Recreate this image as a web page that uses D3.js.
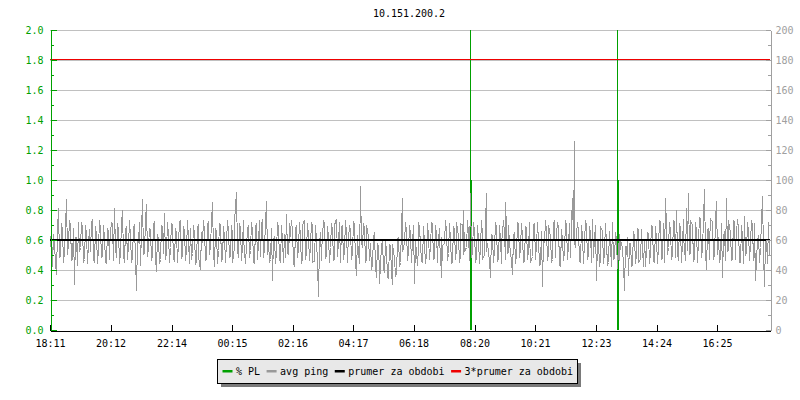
<!DOCTYPE html>
<html>
<head>
<meta charset="utf-8">
<script src="https://cdn.jsdelivr.net/npm/d3@7"></script>
<style>
  body { margin: 0; background: #fff; }
  svg { display: block; }
  text { font-family: "DejaVu Sans Mono", monospace; font-size: 10px; }
</style>
</head>
<body>
<svg id="chart" width="800" height="400"></svg>
<script>
'use strict';

// ---- data ----
const title = '10.151.200.2';
const startClock = '18:11';
const stepMinutes = 2;
const xTickLabels = ['18:11', '20:12', '22:14', '00:15', '02:16', '04:17', '06:18', '08:20', '10:21', '12:23', '14:24', '16:25'];
const leftTicks = [0, 0.2, 0.4, 0.6, 0.8, 1.0, 1.2, 1.4, 1.6, 1.8, 2.0];
const rightTicks = [0, 20, 40, 60, 80, 100, 120, 140, 160, 180, 200];

// avg ping, ms, one sample every 2 minutes from 18:11
const avgPing = [
  55,70, 42,64, 58,44, 37,66, 81,48, 50,71, 66,45, 52,69, 87,50, 58,73,
  70,46, 48,68, 30,62, 62,43, 72,52, 55,72, 68,45, 47,70, 64,44, 58,67,
  52,71, 74,47, 45,69, 63,44, 55,73, 67,48, 50,70, 61,46, 44,68, 65,47,
  57,72, 70,46, 81,55, 48,71, 66,44, 52,70, 80,50, 45,67, 69,47, 56,73,
  62,45, 48,69, 70,47, 26,60, 58,72, 43,66, 87,50, 52,73, 84,49, 55,68,
  66,46, 50,71, 72,48, 39,64, 60,44, 47,70, 68,51, 78,47, 52,72, 63,45,
  55,71, 70,47, 46,68, 64,45, 58,72, 73,48, 49,69, 66,46, 53,73, 61,44,
  68,47, 51,70, 63,44, 45,69, 70,49, 40,65, 58,73, 66,46, 48,71, 72,50,
  56,72, 85,52, 42,68, 65,44, 53,71, 70,46, 47,69, 62,45, 58,73, 66,48,
  50,70, 64,45, 55,72, 92,53, 48,71, 68,46, 57,73, 61,44, 45,67, 70,48,
  53,72, 66,46, 44,69, 71,47, 58,73, 49,70, 74,48, 55,71, 86,50, 60,45,
  47,68, 33,61, 62,44, 52,72, 68,47, 45,70, 59,45, 64,48, 77,52, 50,71,
  58,73, 66,45, 42,67, 70,48, 55,72, 61,44, 48,70, 73,47, 52,71, 63,46,
  57,72, 69,45, 46,70, 60,44, 22,58, 65,46, 52,73, 71,48, 49,69, 62,45,
  55,71, 67,46, 48,70, 74,49, 58,72, 45,68, 70,47, 53,73, 64,45, 50,70,
  66,47, 52,72, 71,46, 36,63, 60,44, 96,58, 55,71, 68,45, 47,70, 62,46,
  58,40, 44,62, 65,42, 35,58, 55,38, 31,56, 60,41, 38,60, 52,36, 34,57,
  56,38, 30,57, 48,36, 37,60, 62,42, 45,68, 88,52, 58,72, 66,46, 52,70,
  63,45, 47,70, 31,58, 60,43, 55,72, 68,46, 45,69, 58,44, 50,71, 62,47,
  56,72, 70,47, 48,70, 64,45, 52,68, 43,62, 35,56, 58,73, 66,46, 51,71,
  60,44, 46,69, 67,47, 54,72, 62,45, 49,71, 70,50, 80,52, 55,73, 64,46,
  91,48, 52,72, 66,45, 48,70, 60,44, 56,73, 63,47, 50,71, 91,52, 58,46,
  35,64, 62,45, 54,72, 68,46, 47,70, 60,44, 57,73, 64,47, 85,51, 52,70,
  58,46, 37,63, 65,44, 50,72, 70,48, 55,71, 62,45, 46,69, 68,47, 53,72,
  64,45, 49,70, 71,47, 56,72, 60,43, 44,66, 29,60, 58,73, 66,46, 51,70,
  62,45, 47,71, 73,48, 55,72, 68,44, 42,67, 60,46, 52,73, 70,47, 57,71,
  48,72, 88,60, 126,58, 55,72, 66,46, 45,70, 62,44, 58,73, 70,47, 50,69,
  64,45, 74,48, 50,70, 33,58, 60,42, 47,69, 66,44, 52,71, 58,43, 45,66,
  56,42, 72,47, 48,65, 60,41, 52,64, 46,60, 55,43, 26,56, 50,62, 36,58,
  58,42, 44,66, 62,44, 50,68, 66,45, 47,67, 55,42, 60,46, 42,65, 64,44,
  52,70, 68,46, 45,69, 60,44, 56,73, 72,47, 48,71, 64,45, 88,50, 55,72,
  66,47, 50,73, 72,48, 80,52, 46,71, 68,45, 58,74, 62,46, 81,53, 91,50,
  52,73, 70,46, 47,72, 66,45, 60,75, 74,48, 55,73, 94,52, 40,66, 68,47,
  57,74, 72,47, 50,72, 86,50, 62,45, 48,71, 35,62, 66,46, 88,52, 54,73,
  65,46, 48,73, 72,47, 56,74, 68,45, 45,70, 62,44, 76,50, 51,72, 66,46,
  58,73, 70,46, 50,71, 33,60, 63,45, 55,72, 89,52, 29,58, 60,44, 72,50
];

// packet loss samples (left axis), all other samples are 0
const plTimes = ['08:11', '08:13', '13:05', '13:07'];
const plValues = [2.0, 1.0, 2.0, 1.0];

const meanPing = 60;
const tripleMeanPing = 180;

const legendLabels = ['% PL', 'avg ping', 'prumer za obdobi', '3*prumer za obdobi'];
const colors = {
  pl: '#00a000',
  ping: '#999999',
  mean: '#000000',
  triple: '#ee0000',
};
const legendColors = [colors.pl, colors.ping, colors.mean, colors.triple];

// ---- helpers ----
const day0 = new Date(2020, 0, 1);
const [sh, sm] = startClock.split(':').map(Number);
const start = new Date(day0.getTime() + (sh * 60 + sm) * 60000);
const end = new Date(start.getTime() + 24 * 3600000);

const clockToDate = (s) => {
  const [h, m] = s.split(':').map(Number);
  let t = new Date(day0.getTime() + (h * 60 + m) * 60000);
  if (t < start) t = new Date(t.getTime() + 24 * 3600000);
  return t;
};

// ---- chart ----
const svg = d3.select('#chart');
const plotL = 50, plotR = 770, plotT = 30, plotB = 330;

const x = d3.scaleTime().domain([start, end]).range([plotL, plotR]);
const yL = d3.scaleLinear().domain([0, 2]).range([plotB, plotT]);
const yR = d3.scaleLinear().domain([0, 200]).range([plotB, plotT]);
const px = (t) => Math.floor(x(t)) + 0.5;

const g = svg.append('g').attr('shape-rendering', 'crispEdges');

// title
svg.append('text')
  .attr('x', 409).attr('y', 17)
  .attr('text-anchor', 'middle')
  .attr('fill', '#000')
  .text(title);

// horizontal grid
g.selectAll('.grid')
  .data(leftTicks.filter((d) => d > 0))
  .enter()
  .append('line')
  .attr('x1', plotL).attr('x2', plotR)
  .attr('y1', (d) => Math.round(yL(d)) + 0.5)
  .attr('y2', (d) => Math.round(yL(d)) + 0.5)
  .attr('stroke', '#c0c0c0');

// PL samples, one pixel column each
g.selectAll('.pl')
  .data(plTimes.map((t, i) => [clockToDate(t), plValues[i]]))
  .enter()
  .append('line')
  .attr('class', 'pl')
  .attr('x1', (d) => px(d[0])).attr('x2', (d) => px(d[0]))
  .attr('y1', yL(0)).attr('y2', (d) => yL(d[1]))
  .attr('stroke', colors.pl)
  .attr('stroke-width', 1);

// avg ping
const pingPoints = avgPing.map((v, i) => [new Date(start.getTime() + i * stepMinutes * 60000), v]);
g.append('path')
  .datum(pingPoints)
  .attr('fill', 'none')
  .attr('stroke', colors.ping)
  .attr('stroke-width', 1)
  .attr('d', d3.line().x((d) => px(d[0])).y((d) => yR(d[1])));

// mean + 3*mean
g.append('line')
  .attr('x1', plotL).attr('x2', plotR)
  .attr('y1', yR(meanPing)).attr('y2', yR(meanPing))
  .attr('stroke', colors.mean).attr('stroke-width', 2);
g.append('line')
  .attr('x1', plotL).attr('x2', plotR)
  .attr('y1', yR(tripleMeanPing) - 0.5).attr('y2', yR(tripleMeanPing) - 0.5)
  .attr('stroke', colors.triple).attr('stroke-width', 1);

// left axis
const axL = d3.axisLeft(yL).tickValues(leftTicks).tickSize(0).tickPadding(7).tickFormat(d3.format('.1f'));
const gL = svg.append('g').attr('transform', `translate(${plotL + 0.5},0)`).call(axL);
gL.select('.domain').attr('stroke', colors.pl).attr('shape-rendering', 'crispEdges');
gL.selectAll('text').attr('fill', colors.pl).style('font-size', '10px');
gL.selectAll('.tk').data(d3.range(0, 2.001, 0.1)).enter().append('line')
  .attr('class', 'tk')
  .attr('shape-rendering', 'crispEdges')
  .attr('stroke', colors.pl)
  .attr('x1', 0)
  .attr('x2', (d, i) => (i % 2 === 0 ? 6 : 3))
  .attr('y1', (d) => Math.round(yL(d)) + 0.5)
  .attr('y2', (d) => Math.round(yL(d)) + 0.5);

// right axis
const axR = d3.axisRight(yR).tickValues(rightTicks).tickSize(0).tickPadding(5);
const gR = svg.append('g').attr('transform', `translate(${plotR + 0.5},0)`).call(axR);
gR.select('.domain').attr('stroke', '#a0a0a0').attr('shape-rendering', 'crispEdges');
gR.selectAll('text').attr('fill', '#a0a0a0').style('font-size', '10px');
gR.selectAll('.tk').data(d3.range(0, 201, 10)).enter().append('line')
  .attr('class', 'tk')
  .attr('shape-rendering', 'crispEdges')
  .attr('stroke', '#a0a0a0')
  .attr('x1', 0)
  .attr('x2', (d, i) => (i % 2 === 0 ? -5 : -3))
  .attr('y1', (d) => Math.round(yR(d)) + 0.5)
  .attr('y2', (d) => Math.round(yR(d)) + 0.5);

// x axis
const axX = d3.axisBottom(x)
  .tickValues(xTickLabels.map(clockToDate))
  .tickSizeInner(-6).tickSizeOuter(0).tickPadding(9)
  .tickFormat(d3.timeFormat('%H:%M'));
const gX = svg.append('g').attr('transform', `translate(0,${plotB + 0.5})`).call(axX);
gX.select('.domain').attr('stroke', '#000').attr('shape-rendering', 'crispEdges');
gX.selectAll('.tick line').attr('stroke', '#000').attr('shape-rendering', 'crispEdges');
gX.selectAll('text').attr('fill', '#000').style('font-size', '10px');
svg.selectAll('.domain').attr('stroke-width', 1);

// legend
const lg = svg.append('g');
const boxX = 217.5, boxY = 359.5, boxH = 24;
const shadow = lg.append('rect').attr('fill', '#7a7a7a');
const box = lg.append('rect').attr('fill', '#e8e8e8').attr('stroke', '#000').attr('shape-rendering', 'crispEdges');
let cx = boxX + 5;
legendLabels.forEach((label, i) => {
  lg.append('rect')
    .attr('x', cx).attr('y', 370).attr('width', 10).attr('height', 2.5)
    .attr('fill', legendColors[i]);
  const t = lg.append('text')
    .attr('x', cx + 13.5).attr('y', 375)
    .attr('fill', '#000')
    .text(label);
  cx = cx + 13.5 + t.node().getComputedTextLength() + 6.5;
});
const boxW = Math.round(cx - boxX - 2);
box.attr('x', boxX).attr('y', boxY).attr('width', boxW).attr('height', boxH);
shadow.attr('x', boxX + 3.5).attr('y', boxY + 3.5).attr('width', boxW).attr('height', boxH);
</script>
</body>
</html>
